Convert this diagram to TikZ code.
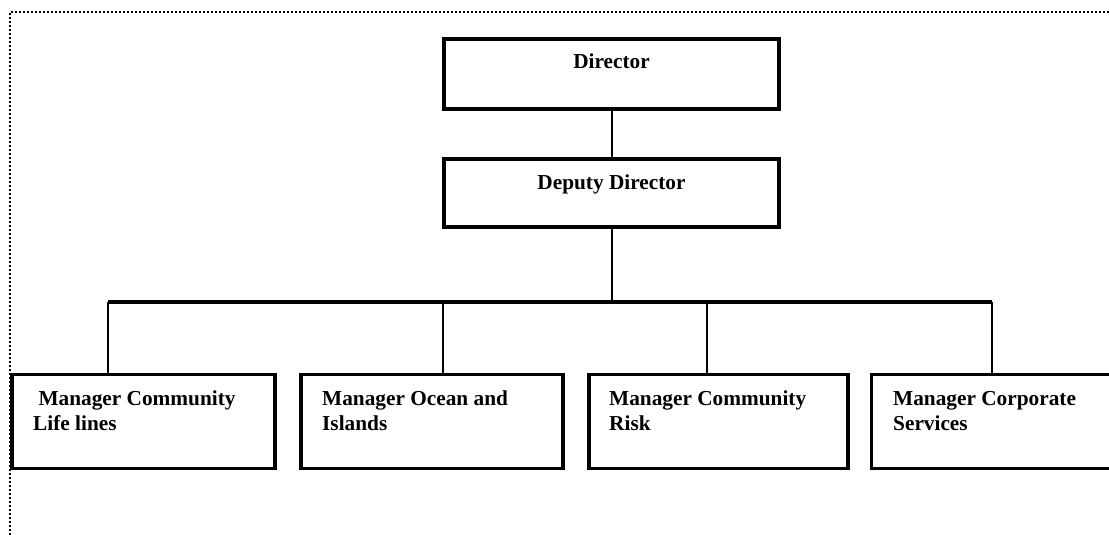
\documentclass[tikz,border=0pt]{standalone}
\usepackage{fontspec}
\setmainfont{Liberation Serif}
\begin{document}
\begin{tikzpicture}[x=1pt, y=-1pt,
  orgbox/.style={draw, line width=3.5pt, inner sep=0pt, minimum width=#1},
  label/.style={inner sep=0pt, align=left, font=\bfseries\fontsize{21.3}{25}\selectfont},
  link/.style={line width=1.5pt},
  busline/.style={line width=4pt},
  frame/.style={line width=2pt, dash pattern=on 2pt off 2pt}]

  % page area
  \useasboundingbox (0,0) rectangle (1109,535);
  \clip (0,0) rectangle (1109,535);

  % dotted frame along the top and left
  \coordinate (fbl) at (10,535);
  \coordinate (ftl) at (10,12);
  \coordinate (ftr) at (1109,12);
  \draw[frame] (fbl) -- (ftl) -- (ftr);

  % top of the chart
  \node[orgbox=335, minimum height=70] (dir) at (611.5,74) {};
  \node[label, anchor=base] (dirt) at (611.5,69) {Director};
  \node[orgbox=335, minimum height=68] (dep) at (611.5,193) {};
  \node[label, anchor=base] (dept) at (611.5,189) {Deputy Director};

  % managers
  \node[orgbox=263, minimum height=94] (m1) at (143.5,421.5) {};
  \node[orgbox=262, minimum height=94] (m2) at (432,421.5) {};
  \node[orgbox=259, minimum height=94] (m3) at (718.5,421.5) {};
  \node[orgbox=240, minimum height=94] (m4) at (991.5,421.5) {};

  % two-line names, placed by the baseline of the second line
  \node[label, anchor=base west] (m1t) at (33,430) {\hspace*{0.25em}Manager Community\\Life lines};
  \node[label, anchor=base west] (m2t) at (322,430) {Manager Ocean and\\Islands};
  \node[label, anchor=base west] (m3t) at (609,430) {Manager Community\\Risk};
  \node[label, anchor=base west] (m4t) at (893,430) {Manager Corporate\\Services};

  % bus points
  \coordinate (bc) at (612,302);
  \coordinate (b1) at (108,302);
  \coordinate (b2) at (443,302);
  \coordinate (b3) at (707,302);
  \coordinate (b4) at (992,302);

  % connectors
  \draw[link] (dir.south -| bc) -- (dep.north -| bc);
  \draw[link] (dep.south -| bc) -- (bc);
  \draw[busline] (b1) -- (b4);
  \draw[link] (b1) -- (b1 |- m1.north);
  \draw[link] (b2) -- (b2 |- m2.north);
  \draw[link] (b3) -- (b3 |- m3.north);
  \draw[link] (b4) -- (b4 |- m4.north);
\end{tikzpicture}
\end{document}
